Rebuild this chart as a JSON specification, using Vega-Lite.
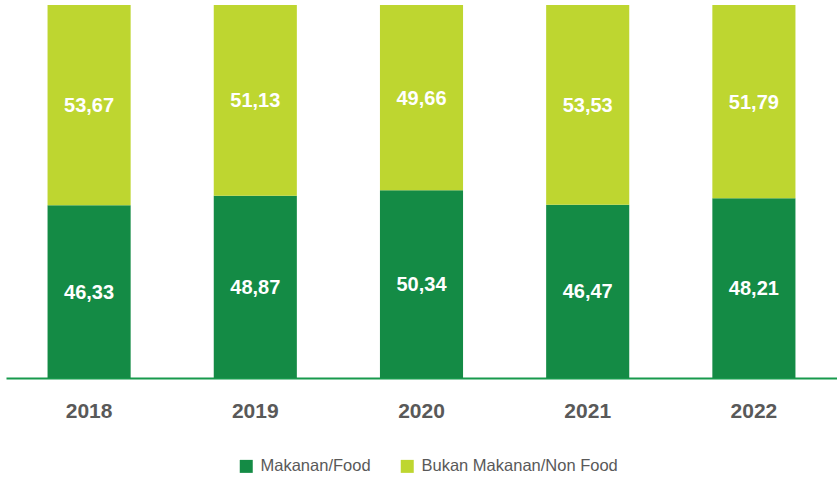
{
  "$schema": "https://vega.github.io/schema/vega-lite/v6.json",
  "autosize": "none",
  "padding": {"left": 6, "top": 5, "right": 0, "bottom": 102},
  "width": 831,
  "height": 373,
  "config": {
    "view": {"stroke": null},
    "locale": {"number": {"decimal": ",", "thousands": ".", "grouping": [3], "currency": ["", ""]}},
    "font": "Liberation Sans, sans-serif"
  },
  "data": {
    "values": [
      {"year": "2018", "category": "Makanan/Food", "value": 46.33},
      {"year": "2018", "category": "Bukan Makanan/Non Food", "value": 53.67},
      {"year": "2019", "category": "Makanan/Food", "value": 48.87},
      {"year": "2019", "category": "Bukan Makanan/Non Food", "value": 51.13},
      {"year": "2020", "category": "Makanan/Food", "value": 50.34},
      {"year": "2020", "category": "Bukan Makanan/Non Food", "value": 49.66},
      {"year": "2021", "category": "Makanan/Food", "value": 46.47},
      {"year": "2021", "category": "Bukan Makanan/Non Food", "value": 53.53},
      {"year": "2022", "category": "Makanan/Food", "value": 48.21},
      {"year": "2022", "category": "Bukan Makanan/Non Food", "value": 51.79}
    ]
  },
  "encoding": {
    "x": {
      "field": "year", "type": "nominal", "title": null,
      "scale": {"paddingInner": 0.5, "paddingOuter": 0.25},
      "axis": {
        "labelAngle": 0, "ticks": false, "grid": false,
        "domainColor": "#179A4C", "domainWidth": 2,
        "labelFont": "Liberation Sans, sans-serif",
        "labelFontSize": 21, "labelFontWeight": "bold", "labelColor": "#595959",
        "labelPadding": 22
      }
    }
  },
  "layer": [
    {
      "mark": {"type": "bar"},
      "encoding": {
        "y": {"field": "value", "type": "quantitative", "stack": "zero", "scale": {"domain": [0, 100]}, "axis": null},
        "color": {
          "field": "category", "type": "nominal",
          "scale": {"domain": ["Makanan/Food", "Bukan Makanan/Non Food"], "range": ["#148B45", "#BED630"]},
          "legend": {
            "title": null, "orient": "none", "direction": "horizontal",
            "legendX": 232, "legendY": 453,
            "symbolType": "square", "symbolSize": 169, "symbolStrokeWidth": 0,
            "labelFontSize": 16.5, "labelColor": "#595959", "labelLimit": 400,
            "labelFont": "Liberation Sans, sans-serif",
            "columnPadding": 28, "labelOffset": 6
          }
        },
        "order": {"field": "category", "sort": "descending"}
      }
    },
    {
      "transform": [{"filter": "datum.category === 'Makanan/Food'"}],
      "mark": {"type": "text", "color": "white", "fontWeight": "bold", "fontSize": 20, "baseline": "middle", "dy": 1},
      "encoding": {
        "y": {"field": "value", "type": "quantitative", "stack": null, "scale": {"domain": [0, 200]}, "axis": null},
        "text": {"field": "value", "type": "quantitative", "format": ".2f"}
      }
    },
    {
      "transform": [{"filter": "datum.category === 'Bukan Makanan/Non Food'"}],
      "mark": {"type": "text", "color": "white", "fontWeight": "bold", "fontSize": 20, "baseline": "middle", "dy": 1},
      "encoding": {
        "y": {"field": "value", "type": "quantitative", "stack": null, "scale": {"domain": [0, 200], "reverse": true}, "axis": null},
        "text": {"field": "value", "type": "quantitative", "format": ".2f"}
      }
    }
  ],
  "resolve": {"scale": {"y": "independent"}}
}
